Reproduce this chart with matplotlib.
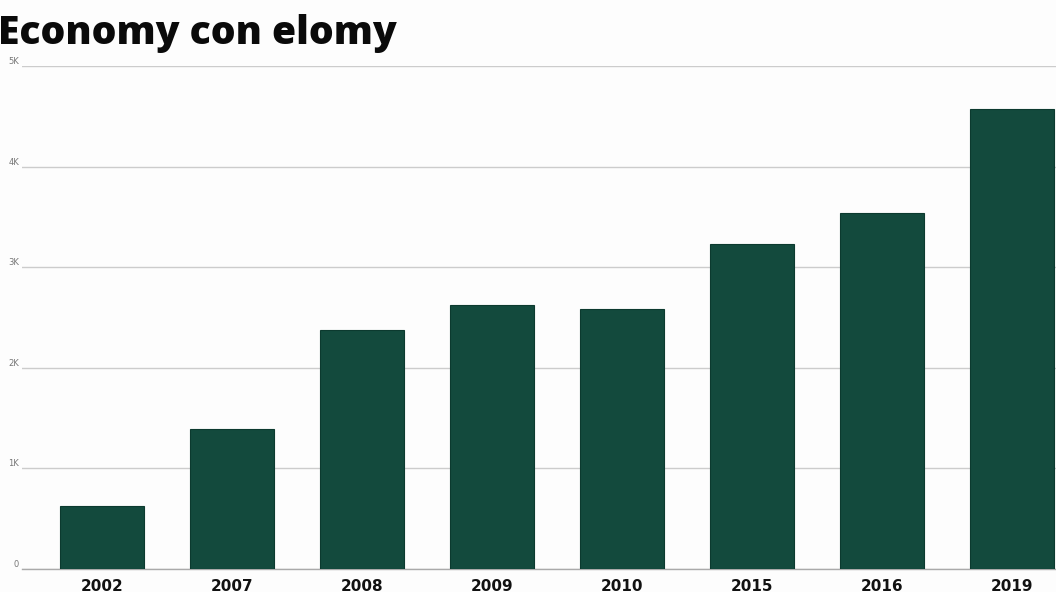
import matplotlib
matplotlib.use("Agg")
import matplotlib.pyplot as plt

categories = ["2002", "2007", "2008", "2009", "2010", "2015", "2016", "2019"]
values = [626, 1392, 2376, 2624, 2585, 3231, 3539, 4573]
yticks = [0, 1000, 2000, 3000, 4000, 5000]
ytick_labels = ["0", "1K", "2K", "3K", "4K", "5K"]
title = "Economy con elomy"

fig = plt.figure(figsize=(10.56, 5.92), dpi=100)
fig.patch.set_facecolor("#fdfdfd")
ax = fig.add_axes([22/1056, 23/592, (1056-22)/1056, (569-66)/592])
ax.set_facecolor("#fdfdfd")

x = list(range(len(categories)))
ax.bar(x, values, width=0.65, color="#134a3d", edgecolor="#0c3a2f", linewidth=0.8, zorder=3)

ax.set_xlim(-0.615, 7.34)
ax.set_ylim(0, 5000)
ax.set_yticks(yticks)
ax.set_yticklabels(ytick_labels, fontsize=6, color="#777777", va="bottom")
ax.tick_params(axis="y", length=0, pad=2)
ax.grid(axis="y", color="#cccccc", linewidth=1, zorder=0)
ax.set_xticks(x)
ax.set_xticklabels(categories, fontsize=11, fontweight="bold", color="#111111")
ax.tick_params(axis="x", length=0, pad=7)
for s in ["top", "right", "left"]:
    ax.spines[s].set_visible(False)
ax.spines["bottom"].set_color("#aaaaaa")
ax.spines["bottom"].set_linewidth(1)

fig.text(-0.002, 0.943, title, fontsize=28.2, fontweight=800, family="Open Sans",
         color="#0a0a0a", ha="left", va="center")

fig.savefig("out.png", dpi=100, facecolor=fig.get_facecolor())
